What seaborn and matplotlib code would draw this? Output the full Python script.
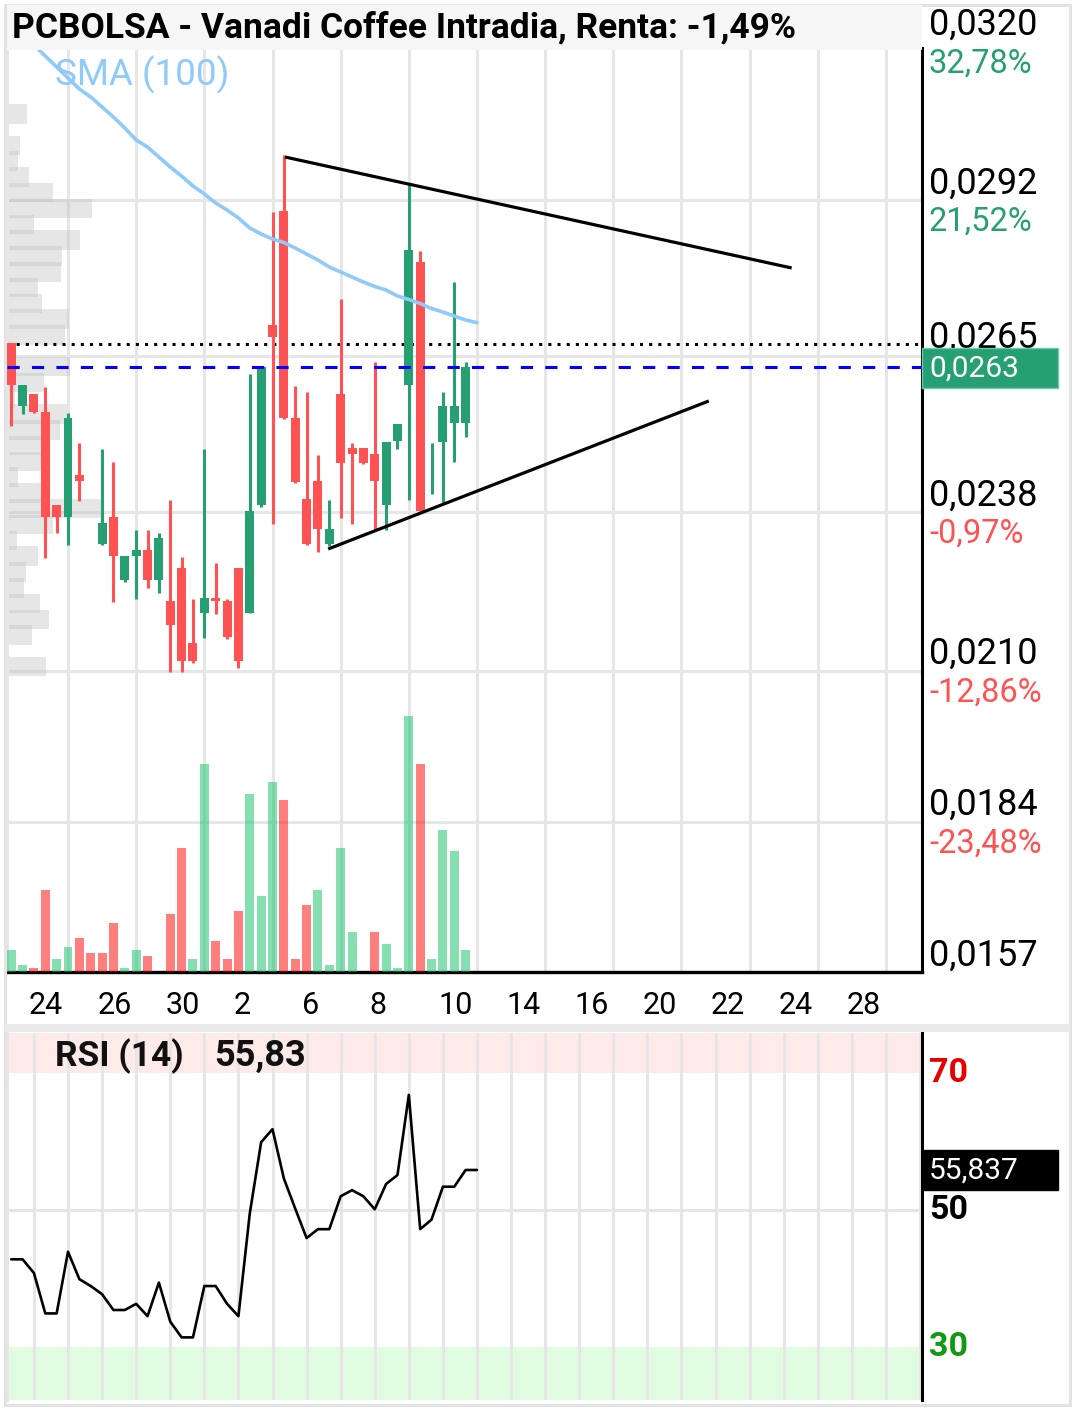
import numpy as np
import pandas as pd
import matplotlib
matplotlib.use("Agg")
import matplotlib.pyplot as plt
import matplotlib.transforms as mtransforms
from matplotlib.patches import Rectangle
import seaborn as sns

# ---------------- data ----------------
title = "PCBOLSA - Vanadi Coffee Intradia, Renta: -1,49%"
nan = np.nan
opens = [0.026699, 0.025597, 0.025807, 0.025492, 0.023866, 0.023656, 0.024391, nan, 0.023184, 0.023656,
         0.022555, 0.022974, 0.023079, 0.022555, 0.022187, 0.022764, 0.021453, 0.021978, 0.022240, 0.022187,
         0.022764, 0.021978, 0.023866, 0.027014, 0.029007, 0.025387, 0.023971, 0.024286, 0.023184, 0.025807,
         0.024863, 0.024863, 0.024758, 0.023866, 0.024985, 0.025965, 0.028115, 0.024478, 0.024968, 0.025300,
         0.025300]
highs = [0.026699, 0.025965, 0.025807, 0.025930, 0.023866, 0.025475, 0.024950, nan, 0.024845, 0.024618,
         0.022974, 0.023429, 0.023429, 0.023377, 0.023954, 0.022957, 0.022222, 0.024845, 0.022852, 0.022222,
         0.022764, 0.026157, 0.026279, 0.028990, 0.029987, 0.025947, 0.025842, 0.024740, 0.023954, 0.027468,
         0.024950, 0.024863, 0.026367, 0.024968, 0.025283, 0.029497, 0.028308, 0.024950, 0.025842, 0.027766,
         0.026367]
lows = [0.025248, 0.025457, 0.025475, 0.022939, 0.023377, 0.023167, 0.023937, nan, 0.023167, 0.022170,
        0.022520, 0.022222, 0.022415, 0.022327, 0.020946, 0.020946, 0.021103, 0.021540, 0.021960, 0.021523,
        0.021016, 0.021978, 0.023831, 0.023534, 0.025370, 0.024251, 0.023167, 0.023044, 0.023149, 0.023639,
        0.023534, 0.024583, 0.023429, 0.023429, 0.024845, 0.023954, 0.023761, 0.024058, 0.023902, 0.024618,
        0.025055]
closes = [0.025965, 0.025965, 0.025492, 0.023656, 0.023656, 0.025387, 0.024286, nan, 0.023551, 0.022974,
          0.022974, 0.023079, 0.022555, 0.023289, 0.021768, 0.021138, 0.021138, 0.022240, 0.022187, 0.021558,
          0.021138, 0.023761, 0.026279, 0.026804, 0.025387, 0.024268, 0.023184, 0.023446, 0.023446, 0.024601,
          0.024758, 0.024601, 0.024286, 0.024968, 0.025283, 0.028325, 0.023761, 0.024478, 0.025597, 0.025597,
          0.026279]
volumes = [22, 6.7, 4, 82, 13, 25, 34, 19, 19, 49, 4, 22, 16, 0, 58, 124, 13, 208, 31, 13, 61,
           178, 76, 190, 172, 13, 67, 82, 7, 124, 40, 0, 40, 28, 4, 256, 208, 13, 142, 121, 22]
volume_up = [1, 1, 0, 0, 1, 1, 0, 0, 0, 0, 1, 1, 0, 1, 0, 0, 1, 1, 0, 0, 0,
             1, 1, 1, 0, 0, 0, 1, 1, 1, 1, 1, 0, 1, 1, 1, 0, 1, 1, 1, 1]
sma100 = [0.032260, 0.032067, 0.031910, 0.031718, 0.031525, 0.031333, 0.031141, 0.031001, 0.030826, 0.030651,
          0.030459, 0.030249, 0.030126, 0.029952, 0.029777, 0.029619, 0.029444, 0.029305, 0.029147, 0.029025,
          0.028885, 0.028710, 0.028605, 0.028518, 0.028457, 0.028360, 0.028255, 0.028150, 0.028028, 0.027940,
          0.027853, 0.027766, 0.027687, 0.027626, 0.027521, 0.027460, 0.027390, 0.027302, 0.027241, 0.027171,
          0.027101, 0.027054]
rsi14 = [42.8, 42.8, 40.8, 34.9, 34.9, 43.9, 39.9, 38.9, 37.7, 35.4, 35.4, 36.3, 34.5, 39.4, 33.7, 31.4,
         31.4, 38.9, 38.9, 36.3, 34.5, 49.5, 59.9, 61.8, 54.6, 50.2, 45.9, 47.2, 47.2, 52.0, 52.9, 52.0,
         50.1, 53.8, 55.1, 66.8, 47.2, 48.6, 53.4, 53.4, 55.84, 55.84]
profile_price = [0.030708, 0.030432, 0.030155, 0.029879, 0.029603, 0.029327, 0.029050, 0.028774, 0.028498,
                 0.028221, 0.027945, 0.027669, 0.027393, 0.027116, 0.026840, 0.026564, 0.026287, 0.026011,
                 0.025735, 0.025459, 0.025182, 0.024906, 0.024630, 0.024353, 0.024077, 0.023801, 0.023524,
                 0.023248, 0.022972, 0.022696, 0.022419, 0.022143, 0.021867, 0.021590, 0.021314, 0.021038]
profile_volume = [20, 0, 13, 11, 22, 46, 85, 27, 73, 55, 54, 31, 35, 62, 58, 3, 63, 37, 8, 60, 53, 40,
                  40, 11, 40, 97, 46, 10, 31, 19, 17, 33, 42, 25, 0, 39]
price_ticks = [0.031910, 0.029200, 0.026472, 0.023738, 0.020969, 0.018328, 0.015700]
price_tick_labels = ["0,0320", "0,0292", "0,0265", "0,0238", "0,0210", "0,0184", "0,0157"]
pct_labels = ["32,78%", "21,52%", "", "-0,97%", "-12,86%", "-23,48%", ""]
date_labels = ["24", "26", "30", "2", "6", "8", "10", "14", "16", "20", "22", "24", "28"]
upper_trend_x = [24.1, 68.7]
upper_trend_y = [0.029952, 0.028011]
lower_trend_x = [27.9, 61.4]
lower_trend_y = [0.023097, 0.025685]
ref_level = 0.026682
last_price = 0.026279
last_price_label = "0,0263"
rsi_levels = [70, 50, 30]
rsi_last_label = "55,837"
rsi_title_value = "55,83"

# ---------------- style ----------------
sns.set_theme(style="white")
plt.rcParams["font.family"] = ["Roboto", "DejaVu Sans"]
GREEN = "#26a073"
RED = "#ff5252"
GRID = "#e6e6e6"
SMA_C = "#90caf9"

W, H = 1076, 1409
fig = plt.figure(figsize=(W / 100, H / 100), dpi=100)
fig.patch.set_facecolor("white")
ident = mtransforms.IdentityTransform()

def fbox(x0, y0, x1, y1):
    return [x0 / W, 1 - y1 / H, (x1 - x0) / W, (y1 - y0) / H]

ax = fig.add_axes(fbox(7, 48, 922, 972))
ax_r = fig.add_axes(fbox(7, 1033, 922, 1400))

n_slots = len(sma100)
idx = np.arange(n_slots)
cidx = np.arange(len(opens))
XL = (-0.37, 80.17)
grid_main = np.arange(5, 80, 6)
grid_rsi = np.arange(2, 81, 3)

# ---------------- main panel ----------------
ax.set_xlim(*XL)
ax.set_ylim(0.015700, 0.031858)
ax.set_axisbelow(True)
ax.set_xticks(grid_main)
ax.set_yticks(price_ticks[1:-1])
ax.tick_params(labelbottom=False, labelleft=False, length=0)
ax.grid(True, color=GRID, lw=2.2)
ax.spines["top"].set_visible(False)
ax.spines["left"].set_color(GRID); ax.spines["left"].set_linewidth(2.2)
ax.spines["right"].set_color("black"); ax.spines["right"].set_linewidth(2.2)
ax.spines["bottom"].set_color("black"); ax.spines["bottom"].set_linewidth(2.4)

# volume profile
px_per_idx = 915 / (XL[1] - XL[0])
ax.barh(profile_price, np.array(profile_volume) / px_per_idx, left=XL[0], height=0.000341,
        color="#c4c4c4", alpha=0.42, linewidth=0, zorder=1.5)

# reference dotted line (below candles)
ax.axhline(ref_level, color="black", lw=2.2, ls=(0, (1, 2)), zorder=2)

o = np.array(opens); h = np.array(highs); l = np.array(lows); c = np.array(closes)
valid = ~np.isnan(o)
up = c >= o
ccol = np.where(up, GREEN, RED)
ax.vlines(cidx[valid], l[valid], h[valid], colors=ccol[valid], lw=2.2, zorder=3)
ax.bar(cidx[valid], np.abs(c - o)[valid], bottom=np.minimum(o, c)[valid], width=0.79,
       color=ccol[valid], linewidth=0, zorder=4)

# dashed last-price line
ax.axhline(last_price, color="#0000ff", lw=2.2, ls=(0, (4, 4)), zorder=5)

df = pd.DataFrame({"slot": idx, "sma": sma100, "rsi": rsi14})
sns.lineplot(data=df, x="slot", y="sma", ax=ax, color=SMA_C, lw=2.6, zorder=6)
ax.plot(upper_trend_x, upper_trend_y, color="black", lw=2.3, zorder=7, solid_capstyle="butt")
ax.plot(lower_trend_x, lower_trend_y, color="black", lw=2.3, zorder=7, solid_capstyle="butt")
ax.set_xlabel(""); ax.set_ylabel("")
ax.set_xlim(*XL)
ax.set_ylim(0.015700, 0.031858)

# volume
axv = ax.twinx()
vcol = ["#0fc163" if u else "#ff0000" for u in volume_up]
axv.bar(np.arange(len(volumes)), volumes, width=0.79, color=vcol, alpha=0.5, linewidth=0)
axv.set_ylim(0, max(volumes) * 924 / 256)
axv.set_xlim(*XL)
axv.axis("off")

# ---------------- RSI panel ----------------
ax_r.set_xlim(*XL)
ax_r.set_ylim(22.26, 75.84)
ax_r.set_axisbelow(True)
ax_r.axhspan(70, 75.84, color="#ffeaea", lw=0, zorder=0)
ax_r.axhspan(22.26, 30, color="#e1fde1", lw=0, zorder=0)
ax_r.set_xticks(grid_rsi)
ax_r.set_yticks([50])
ax_r.tick_params(labelbottom=False, labelleft=False, length=0)
ax_r.grid(True, color=GRID, lw=2.2, zorder=0.5)
sns.lineplot(data=df, x="slot", y="rsi", ax=ax_r, color="black", lw=1.9, zorder=3)
ax_r.set_xlabel(""); ax_r.set_ylabel("")
ax_r.set_xlim(*XL)
ax_r.set_ylim(22.26, 75.84)
ax_r.spines["top"].set_visible(False)
ax_r.spines["bottom"].set_visible(False)
ax_r.spines["left"].set_color(GRID); ax_r.spines["left"].set_linewidth(2.2)
ax_r.spines["right"].set_color("black"); ax_r.spines["right"].set_linewidth(2.2)

# ---------------- decorations (display px coords) ----------------
def Y(axx, v):
    return axx.transData.transform((0, v))[1]

def X(axx, v):
    return axx.transData.transform((v, 0))[0]

def top(py):  # convert top-origin px to display y
    return H - py

# outer frame & separator
fig.add_artist(Rectangle((5, top(1405)), 1065, 1400, transform=ident, fill=False,
                         edgecolor="#e3e3e3", lw=2.2, zorder=0.1))
fig.add_artist(Rectangle((5, top(1032)), 1065, 8, transform=ident, facecolor="#eaeaea",
                         edgecolor="none", zorder=0.2))
# title band
fig.add_artist(Rectangle((7, top(50)), 915, 45, transform=ident, facecolor="#f6f6f6",
                         edgecolor="none", zorder=5))
fig.text(12, top(28), title, transform=ident, fontsize=25.5, fontweight="bold", color="black",
         va="center", ha="left", zorder=6)
fig.text(55, top(75), "SMA (100)", transform=ident, fontsize=26.5, color=SMA_C,
         va="center", ha="left", zorder=6)

# price labels
for k, (v, lab, pct) in enumerate(zip(price_ticks, price_tick_labels, pct_labels)):
    yd = Y(ax, v)
    lift = 10 if k == 0 else (8 if lab == "0,0265" else 6.5)
    fig.text(929, yd + lift, lab, transform=ident, fontsize=26, color="black",
             va="baseline", ha="left", zorder=6)
    if pct:
        pc = GREEN if not pct.startswith("-") else RED
        fig.text(929, yd - 30.5 + (3 if k == 0 else 0), pct, transform=ident, fontsize=23.5,
                 color=pc, va="baseline", ha="left", zorder=6)

# last price box
yl = Y(ax, last_price)
fig.add_artist(Rectangle((922, yl - 21), 136, 40, transform=ident, facecolor=GREEN,
                         edgecolor="#6fcaa6", lw=1, zorder=7))
fig.text(929, yl - 2, last_price_label, transform=ident, fontsize=21.5, color="white",
         va="center", ha="left", zorder=8)

# x date labels
for g, lab in zip(grid_main, date_labels):
    fig.text(X(ax, g) - 39, top(1014), lab, transform=ident, fontsize=22, color="black",
             va="baseline", ha="left", zorder=6)

# RSI texts
fig.text(55, top(1056), "RSI (14)", transform=ident, fontsize=25.5, fontweight="bold",
         color="#111111", va="center", ha="left", zorder=6)
fig.text(214, top(1056), rsi_title_value, transform=ident, fontsize=26, fontweight="bold",
         color="#111111", va="center", ha="left", zorder=6)
lvl_col = {70: "#e60000", 50: "black", 30: "#119911"}
for lv in rsi_levels:
    fig.text(929, Y(ax_r, lv), str(lv), transform=ident, fontsize=24.5, fontweight="bold",
             color=lvl_col[lv], va="center", ha="left", zorder=6)
yr = Y(ax_r, rsi14[-1])
fig.add_artist(Rectangle((922, yr - 20), 136, 40, transform=ident, facecolor="black",
                         edgecolor="black", lw=1, zorder=7))
fig.text(929, yr - 1, rsi_last_label, transform=ident, fontsize=21.5, color="white",
         va="center", ha="left", zorder=8)

fig.savefig("out.png", dpi=100)
